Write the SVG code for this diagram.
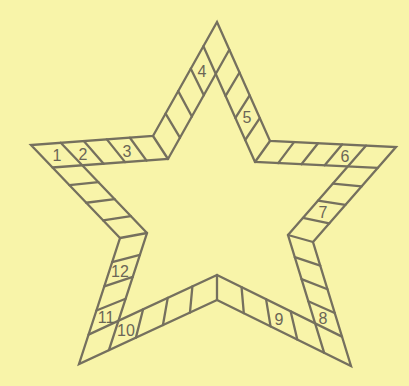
<svg xmlns="http://www.w3.org/2000/svg" width="409" height="386" viewBox="0 0 409 386">
<style>
.ln{fill:none;stroke:#75705e;stroke-width:2.3;stroke-linejoin:miter;stroke-linecap:round}
.num{font-family:"Liberation Sans",Arial,sans-serif;font-size:16px;fill:#6b6656;text-anchor:middle;dominant-baseline:central}
</style>
<rect x="0" y="0" width="409" height="386" fill="#f8f4a9"/>
<g id="outline">
<polygon class="ln" points="217,22 270,141 396,147 313,242 351,366 217,300 79,364 120,238 31,145 153,136"/>
</g>
<g id="inner">
<polyline class="ln" points="229.3,49.7 168,159 52.5,167.5"/>
<polyline class="ln" points="203.4,46.2 255,162 377.8,167.8"/>
<polyline class="ln" points="366.1,145.6 288,235 324.1,352.7"/>
<polyline class="ln" points="342,336.6 217,275 88.6,334.6"/>
<polyline class="ln" points="108.9,350.1 147,233 60.7,142.8"/>
</g>
<g id="corners">
<line class="ln" x1="153" y1="136" x2="168" y2="159"/>
<line class="ln" x1="270" y1="141" x2="255" y2="162"/>
<line class="ln" x1="313" y1="242" x2="288" y2="235"/>
<line class="ln" x1="217" y1="300" x2="217" y2="275"/>
<line class="ln" x1="120" y1="238" x2="147" y2="233"/>
</g>
<g id="dividers">
<line class="ln" x1="190.8" y1="68.65" x2="203.85" y2="95.2"/>
<line class="ln" x1="178.2" y1="91.1" x2="191.9" y2="116.5"/>
<line class="ln" x1="165.6" y1="113.55" x2="179.95" y2="137.7"/>
<line class="ln" x1="239.5" y1="72.5" x2="225.6" y2="95.9"/>
<line class="ln" x1="249.65" y1="95.35" x2="235.4" y2="117.95"/>
<line class="ln" x1="259.8" y1="118.2" x2="245.2" y2="140"/>
<line class="ln" x1="342.1" y1="144.45" x2="324.7" y2="165.3"/>
<line class="ln" x1="318.05" y1="143.3" x2="301.45" y2="164.2"/>
<line class="ln" x1="294" y1="142.15" x2="278.2" y2="163.1"/>
<line class="ln" x1="361.6" y1="186.35" x2="332.9" y2="183.55"/>
<line class="ln" x1="345.4" y1="204.9" x2="317.95" y2="200.7"/>
<line class="ln" x1="329.2" y1="223.45" x2="303" y2="217.85"/>
<line class="ln" x1="334.75" y1="312.95" x2="308.3" y2="301.2"/>
<line class="ln" x1="327.5" y1="289.3" x2="301.55" y2="279.15"/>
<line class="ln" x1="320.25" y1="265.65" x2="294.8" y2="257.1"/>
<line class="ln" x1="297.3" y1="339.5" x2="290.6" y2="311.2"/>
<line class="ln" x1="270.55" y1="326.35" x2="266.05" y2="299.15"/>
<line class="ln" x1="243.8" y1="313.2" x2="241.55" y2="287.1"/>
<line class="ln" x1="135.9" y1="337.6" x2="143.1" y2="309.3"/>
<line class="ln" x1="162.95" y1="325.05" x2="167.75" y2="297.85"/>
<line class="ln" x1="189.95" y1="312.55" x2="192.4" y2="286.45"/>
<line class="ln" x1="96.45" y1="310.45" x2="125.6" y2="298.8"/>
<line class="ln" x1="104.3" y1="286.3" x2="132.75" y2="276.85"/>
<line class="ln" x1="112.15" y1="262.15" x2="139.9" y2="254.9"/>
<line class="ln" x1="69.4" y1="185.1" x2="98.4" y2="182.2"/>
<line class="ln" x1="86.25" y1="202.75" x2="114.6" y2="199.15"/>
<line class="ln" x1="103.1" y1="220.4" x2="130.8" y2="216.1"/>
<line class="ln" x1="83.8" y1="141.1" x2="103.65" y2="163.7"/>
<line class="ln" x1="106.85" y1="139.4" x2="125.1" y2="162.15"/>
<line class="ln" x1="129.9" y1="137.7" x2="146.55" y2="160.6"/>
</g>
<g id="labels">
<text class="num" x="57" y="155">1</text>
<text class="num" x="83" y="154">2</text>
<text class="num" x="127" y="151">3</text>
<text class="num" x="202" y="71">4</text>
<text class="num" x="247" y="117">5</text>
<text class="num" x="345" y="156">6</text>
<text class="num" x="323" y="212">7</text>
<text class="num" x="323" y="318">8</text>
<text class="num" x="279" y="319">9</text>
<text class="num" x="126" y="330">10</text>
<text class="num" x="106" y="317">11</text>
<text class="num" x="120" y="271">12</text>
</g>
</svg>
